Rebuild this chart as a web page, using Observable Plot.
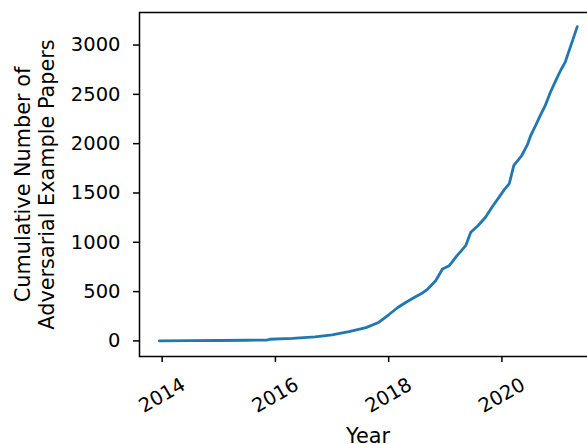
<!DOCTYPE html>
<html>
<head>
<meta charset="utf-8">
<script src="https://cdn.jsdelivr.net/npm/d3@7"></script>
<script src="https://cdn.jsdelivr.net/npm/@observablehq/plot@0.6"></script>
<style>
html, body { margin: 0; padding: 0; background: white; overflow: hidden; }
</style>
</head>
<body>
<div id="chart"></div>
<script>
const years = [2013.95, 2014.5, 2015.0, 2015.5, 2015.85, 2015.9, 2016.3, 2016.7, 2017.0, 2017.3, 2017.6, 2017.83, 2018.0, 2018.16, 2018.3, 2018.45, 2018.58, 2018.69, 2018.83, 2018.95, 2019.07, 2019.2, 2019.36, 2019.45, 2019.58, 2019.71, 2019.83, 2019.95, 2020.05, 2020.13, 2020.21, 2020.35, 2020.45, 2020.51, 2020.6, 2020.68, 2020.76, 2020.86, 2020.95, 2021.04, 2021.12, 2021.18, 2021.25, 2021.33];
const papers = [0, 2, 4, 7, 9, 17, 25, 40, 62, 95, 135, 190, 265, 339, 390, 440, 480, 526, 610, 729, 763, 860, 966, 1102, 1170, 1254, 1360, 1458, 1540, 1594, 1780, 1880, 1990, 2085, 2190, 2289, 2380, 2526, 2640, 2747, 2830, 2933, 3050, 3187];
const xTicks = [2014, 2016, 2018, 2020];
const yTicks = [0, 500, 1000, 1500, 2000, 2500, 3000];
const xLabel = "Year";
const yLabel = "Cumulative Number of\nAdversarial Example Papers";

const data = years.map((y, i) => ({year: y, count: papers[i]}));

const plot = Plot.plot({
  width: 587,
  height: 444,
  marginLeft: 139,
  marginTop: 12,
  marginBottom: 88,
  marginRight: -9,
  style: {fontFamily: "DejaVu Sans", fontSize: "19.5px", color: "black", background: "white"},
  x: {domain: [2013.6, 2021.67]},
  y: {domain: [-158, 3330]},
  marks: [
    Plot.line(data, {x: "year", y: "count", stroke: "#1f77b4", strokeWidth: 2.8}),
    Plot.axisY({ticks: yTicks, tickSize: 6, tickPadding: 13, tickFormat: d => String(d), label: null, strokeWidth: 1.5, fontSize: 19.5}),
    Plot.axisX({ticks: xTicks, tickSize: 6, tickPadding: 33, tickRotate: -30, textAnchor: "middle", lineAnchor: "middle", tickFormat: d => String(d), label: null, strokeWidth: 1.5, fontSize: 19.5}),
    Plot.frame({stroke: "black", strokeWidth: 1.5}),
    Plot.text([xLabel], {frameAnchor: "bottom", text: d => d, dy: 79.5, lineAnchor: "middle", textAnchor: "middle", fontSize: 20.8}),
    Plot.text([yLabel], {frameAnchor: "left", text: d => d, rotate: -90, dx: -105.5, lineAnchor: "middle", textAnchor: "middle", lineHeight: 1.2, fontSize: 20.8})
  ]
});
document.getElementById("chart").appendChild(plot);
</script>
</body>
</html>
